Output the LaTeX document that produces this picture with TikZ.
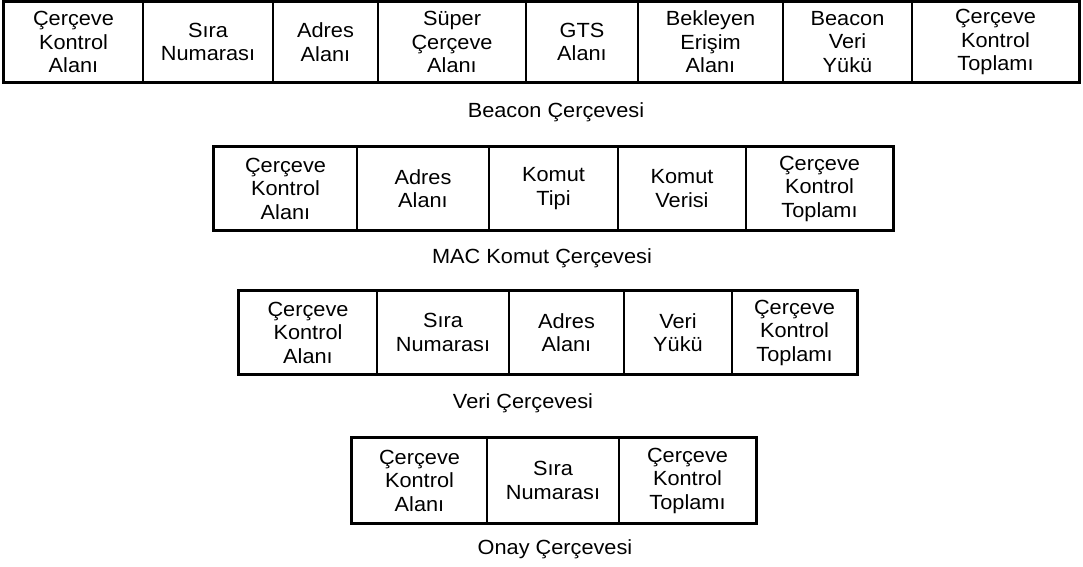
\documentclass[tikz,border=0pt]{standalone}
\usepackage{fontspec}
\setmainfont{Liberation Sans}[FakeStretch=1.06]
\begin{document}
\begin{tikzpicture}[x=1pt,y=-1pt,
  cell/.style={draw, line width=1.4pt, inner sep=0pt, align=center,
    font=\fontsize{20.5}{23.5}\selectfont},
  frame/.style={line width=3pt},
  caption/.style={inner sep=0pt, font=\fontsize{20.5}{23.5}\selectfont}]
\useasboundingbox (0,0) rectangle (1083,566);
% ---------- Beacon frame ----------
\node[cell, minimum width=139pt, minimum height=80pt] (b1) at (73.5,42) {Çerçeve\\Kontrol\\Alanı};
\node[cell, minimum width=130pt, minimum height=80pt] (b2) at (208,42) {Sıra\\Numarası};
\node[cell, minimum width=105pt, minimum height=80pt] (b3) at (325.5,42) {Adres\\Alanı};
\node[cell, minimum width=148pt, minimum height=80pt] (b4) at (452,42) {Süper\\Çerçeve\\Alanı};
\node[cell, minimum width=112pt, minimum height=80pt] (b5) at (582,42) {GTS\\Alanı};
\node[cell, minimum width=145pt, minimum height=80pt] (b6) at (710.5,42) {Bekleyen\\Erişim\\Alanı};
\node[cell, minimum width=129pt, minimum height=80pt] (b7) at (847.5,42) {Beacon\\Veri\\Yükü};
\node[cell, minimum width=167pt, minimum height=80pt] (b8) at (995.5,42) {Çerçeve\\Kontrol\\Toplamı};
\draw[frame] (b1.north west) rectangle (b8.south east);
\node[caption] (cb) at (556,112) {Beacon Çerçevesi};
% ---------- MAC command frame ----------
\node[cell, minimum width=143pt, minimum height=83pt] (m1) at (285.5,188.5) {Çerçeve\\Kontrol\\Alanı};
\node[cell, minimum width=132pt, minimum height=83pt] (m2) at (423,188.5) {Adres\\Alanı};
\node[cell, minimum width=129pt, minimum height=83pt] (m3) at (553.5,188.5) {Komut\\Tipi};
\node[cell, minimum width=128pt, minimum height=83pt] (m4) at (682,188.5) {Komut\\Verisi};
\node[cell, minimum width=147pt, minimum height=83pt] (m5) at (819.5,188.5) {Çerçeve\\Kontrol\\Toplamı};
\draw[frame] (m1.north west) rectangle (m5.south east);
\node[caption] (cm) at (542,258) {MAC Komut Çerçevesi};
% ---------- Data frame ----------
\node[cell, minimum width=138pt, minimum height=82pt] (d1) at (308,332.5) {Çerçeve\\Kontrol\\Alanı};
\node[cell, minimum width=132pt, minimum height=82pt] (d2) at (443,332.5) {Sıra\\Numarası};
\node[cell, minimum width=115pt, minimum height=82pt] (d3) at (566.5,332.5) {Adres\\Alanı};
\node[cell, minimum width=108pt, minimum height=82pt] (d4) at (678,332.5) {Veri\\Yükü};
\node[cell, minimum width=125pt, minimum height=82pt] (d5) at (794.5,332.5) {Çerçeve\\Kontrol\\Toplamı};
\draw[frame] (d1.north west) rectangle (d5.south east);
\node[caption] (cd) at (523,403) {Veri Çerçevesi};
% ---------- Acknowledgement frame ----------
\node[cell, minimum width=135pt, minimum height=85pt] (a1) at (419.5,480.5) {Çerçeve\\Kontrol\\Alanı};
\node[cell, minimum width=132pt, minimum height=85pt] (a2) at (553,480.5) {Sıra\\Numarası};
\node[cell, minimum width=137pt, minimum height=85pt] (a3) at (687.5,480.5) {Çerçeve\\Kontrol\\Toplamı};
\draw[frame] (a1.north west) rectangle (a3.south east);
\node[caption] (ca) at (555,549) {Onay Çerçevesi};
\end{tikzpicture}
\end{document}
